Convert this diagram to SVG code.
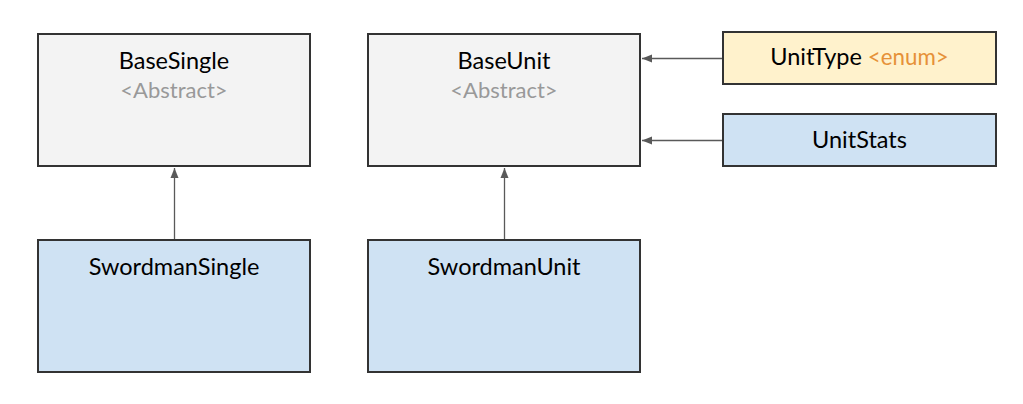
<svg xmlns="http://www.w3.org/2000/svg" width="1023" height="404" viewBox="0 0 1023 404">
<style>
.box{stroke:#333;stroke-width:2}
.grey{fill:#f3f3f3}
.blue{fill:#cfe2f3}
.yellow{fill:#fff2cc}
text{font-family:Lato,"Open Sans",sans-serif;font-size:23.5px;text-anchor:middle;fill:#000}
.sub{fill:#999;font-size:22px}
.enum{fill:#e69138;font-size:22.3px}
.conn{stroke:#595959;stroke-width:1.3;fill:none;marker-end:url(#ah)}
</style>
<defs>
<marker id="ah" viewBox="0 0 10 10" refX="10" refY="5" markerWidth="10" markerHeight="10" markerUnits="userSpaceOnUse" orient="auto">
<path d="M0,1 L10,5 L0,9 z" fill="#595959"/>
</marker>
</defs>
<rect width="1023" height="404" fill="#fff"/>
<g id="connectors">
<line class="conn" x1="174.5" y1="239" x2="174.5" y2="168"/>
<line class="conn" x1="504.5" y1="239" x2="504.5" y2="168"/>
<line class="conn" x1="722" y1="58.5" x2="642" y2="58.5"/>
<line class="conn" x1="722" y1="140.5" x2="642" y2="140.5"/>
</g>
<g id="BaseSingle">
<rect class="box grey" x="38" y="34" width="272" height="132"/>
<text x="174" y="69">BaseSingle</text>
<text class="sub" x="174" y="98">&lt;Abstract&gt;</text>
</g>
<g id="BaseUnit">
<rect class="box grey" x="368" y="34" width="272" height="132"/>
<text x="504" y="69">BaseUnit</text>
<text class="sub" x="504" y="98">&lt;Abstract&gt;</text>
</g>
<g id="UnitType">
<rect class="box yellow" x="723" y="32" width="273" height="52"/>
<text x="859.5" y="65">UnitType <tspan class="enum">&lt;enum&gt;</tspan></text>
</g>
<g id="UnitStats">
<rect class="box blue" x="723" y="114" width="273" height="52"/>
<text x="859.5" y="148">UnitStats</text>
</g>
<g id="SwordmanSingle">
<rect class="box blue" x="38" y="240" width="272" height="132"/>
<text x="174" y="275">SwordmanSingle</text>
</g>
<g id="SwordmanUnit">
<rect class="box blue" x="368" y="240" width="272" height="132"/>
<text x="504" y="275">SwordmanUnit</text>
</g>
</svg>
